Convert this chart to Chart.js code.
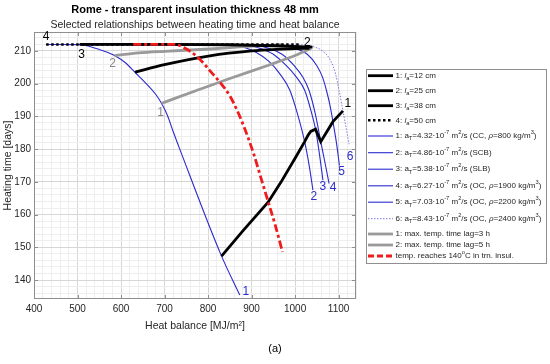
<!DOCTYPE html>
<html>
<head>
<meta charset="utf-8">
<script src="https://cdn.jsdelivr.net/npm/chart.js@4.4.1/dist/chart.umd.min.js"></script>
<style>
  html, body { margin: 0; padding: 0; background: #fff; }
  #wrap { width: 550px; height: 364px; }
</style>
</head>
<body>
<div id="wrap"><canvas id="chart" width="550" height="364"></canvas></div>
<script>
// heat balance [MJ/m2] -> heating time [days]
const xTickLabels = [400, 500, 600, 700, 800, 900, 1000, 1100];
const yTickLabels = [140, 150, 160, 170, 180, 190, 200, 210];

// thin blue: thermal diffusivity of the wall material
const material1 = [[428, 212], [505, 212], [530, 211.3], [551, 210.4], [570, 209.5], [585, 208.6], [610, 206.4], [632, 203.5], [659, 199.9], [680, 196.7], [693, 194], [707, 190.2], [720, 185.3], [735, 180], [831, 147.3], [873, 135.4]];
const material2 = [[428, 212], [850, 211.9], [880, 211.2], [910, 209.6], [940, 206.8], [965, 203], [988, 198], [1005, 191], [1022, 182.3], [1033, 174.5], [1041, 167.5]];
const material3 = [[428, 212], [880, 211.9], [915, 211], [950, 209], [980, 205.5], [1003, 202], [1022, 198], [1035, 192.5], [1047, 186.1], [1056, 178.5], [1064, 170.5]];
const material4 = [[428, 212], [900, 211.9], [935, 211], [970, 209], [998, 205.5], [1018, 202], [1032, 198], [1047, 190.5], [1059, 182.3], [1070, 175], [1078, 169.5]];
const material5 = [[428, 212], [960, 211.9], [995, 211], [1028, 209], [1050, 205.5], [1063, 202], [1072, 198], [1080, 193.5], [1087, 188.4], [1095, 182], [1102, 175]];
const material6 = [[428, 212], [1010, 211.9], [1040, 211.4], [1065, 209.8], [1082, 207], [1093, 203], [1101, 198], [1110, 191.7], [1118, 186], [1124, 181.5]];

// thick black: absorber spacing l_a
const spacing12 = [[831, 147.3], [880, 155], [938, 163.8], [968, 170], [1000, 177.2], [1022, 182.3], [1030, 184.3], [1036, 185.4], [1047, 186.1], [1059, 182.3], [1087, 188.4], [1110, 191.7]];
const spacing25 = [[632, 203.5], [700, 205.8], [804, 208.5], [900, 210], [960, 210.5], [1000, 210.7], [1033, 210.8]];
const spacing38 = [[505, 212], [700, 212], [850, 211.9], [950, 211.6], [1040, 211.2]];
const spacing50 = [[428, 212], [1010, 212]];

// thick grey: max. temperature time lag
const lag3h = [[693, 194], [781, 198.3], [850, 201.6], [942, 205.8], [1000, 208.6], [1037, 210.8]];
const lag5h = [[585, 208.6], [640, 209.4], [700, 209.9], [804, 210.6], [880, 211.3], [968, 211.9]];

// red: temperature reaches 140 C in the transparent insulation
const temp140 = [[628, 212], [724, 212], [745, 211], [770, 208.8], [790, 206.2], [804, 204], [827, 200.5], [850, 196.3], [868, 191.5], [885, 186], [905, 178.5], [922, 171], [938, 164], [955, 156.5], [971, 148.6]];

const FONT = '"Liberation Sans", Arial, Helvetica, sans-serif';
const BLUE = '#2b2bcf';
const BLUE_LIGHT = '#7a7ae0';
const GREY = '#9a9a9a';
const RED = '#ee1c1c';
const TEXT = '#262626';

const styles = {
  black: { color: '#000', width: 2.8, dash: [] },
  blackDot: { color: '#000', width: 2.6, dash: [2.5, 2.5] },
  blue: { color: BLUE, width: 1.1, dash: [] },
  blueDot: { color: BLUE_LIGHT, width: 1, dash: [1.5, 1.5] },
  grey: { color: GREY, width: 2.8, dash: [] },
  red: { color: RED, width: 2.8, dash: [8, 3, 3, 3] }
};

function line(points, style, order, smooth) {
  return {
    data: points.map(([x, y]) => ({ x, y })),
    borderColor: style.color,
    borderWidth: style.width,
    borderDash: style.dash,
    pointRadius: 0,
    fill: false,
    order,
    cubicInterpolationMode: smooth ? 'monotone' : 'default',
    tension: 0
  };
}

const datasets = [
  line(material1, styles.blue, 4, true),
  line(material2, styles.blue, 4, true),
  line(material3, styles.blue, 4, true),
  line(material4, styles.blue, 4, true),
  line(material5, styles.blue, 4, true),
  line(material6, styles.blueDot, 4, true),
  line(lag3h, styles.grey, 3, true),
  line(lag5h, styles.grey, 3, true),
  line(spacing50, styles.blackDot, 2, false),
  line(spacing38, styles.black, 1, false),
  line(spacing25, styles.black, 1, true),
  line(spacing12, styles.black, 1, false),
  line(temp140, styles.red, 0, true)
];

// numbers written next to the curves, anchored at a curve end
const curveLabels = [
  { text: '1', pts: material1, end: true, color: BLUE, dx: 6, dy: -3 },
  { text: '2', pts: material2, end: true, color: BLUE, dx: 1, dy: 7 },
  { text: '3', pts: material3, end: true, color: BLUE, dx: 0, dy: 6 },
  { text: '4', pts: material4, end: true, color: BLUE, dx: 4, dy: 4 },
  { text: '5', pts: material5, end: true, color: BLUE, dx: 2, dy: 6 },
  { text: '6', pts: material6, end: true, color: BLUE, dx: 1, dy: 12 },
  { text: '1', pts: spacing12, end: true, color: '#000', dx: 5, dy: -7 },
  { text: '2', pts: spacing25, end: true, color: '#000', dx: -2, dy: -6 },
  { text: '3', pts: spacing38, end: false, color: '#000', dx: 2, dy: 10 },
  { text: '4', pts: spacing50, end: false, color: '#000', dx: 0, dy: -8 },
  { text: '2', pts: lag5h, end: false, color: '#888', dx: -2, dy: 8 },
  { text: '1', pts: lag3h, end: false, color: '#888', dx: -1, dy: 9 }
];

const legendRows = [
  { s: 'black', y: 75.7, t: [['1: '], ['l', 'i'], ['a', 'sub'], ['=12 cm']] },
  { s: 'black', y: 90.7, t: [['2: '], ['l', 'i'], ['a', 'sub'], ['=25 cm']] },
  { s: 'black', y: 105.7, t: [['3: '], ['l', 'i'], ['a', 'sub'], ['=38 cm']] },
  { s: 'blackDot', y: 120.3, t: [['4: '], ['l', 'i'], ['a', 'sub'], ['=50 cm']] },
  { s: 'blue', y: 136, t: [['1: a'], ['T', 'sub'], ['=4.32\u00b710'], ['-7', 'sup'], [' m'], ['2', 'sup'], ['/s (CC, '], ['\u03c1', 'i'], ['=800 kg/m'], ['3', 'sup'], [')']] },
  { s: 'blue', y: 152.7, t: [['2: a'], ['T', 'sub'], ['=4.86\u00b710'], ['-7', 'sup'], [' m'], ['2', 'sup'], ['/s (SCB)']] },
  { s: 'blue', y: 169.2, t: [['3: a'], ['T', 'sub'], ['=5.38\u00b710'], ['-7', 'sup'], [' m'], ['2', 'sup'], ['/s (SLB)']] },
  { s: 'blue', y: 185.8, t: [['4: a'], ['T', 'sub'], ['=6.27\u00b710'], ['-7', 'sup'], [' m'], ['2', 'sup'], ['/s (OC, '], ['\u03c1', 'i'], ['=1900 kg/m'], ['3', 'sup'], [')']] },
  { s: 'blue', y: 202.2, t: [['5: a'], ['T', 'sub'], ['=7.03\u00b710'], ['-7', 'sup'], [' m'], ['2', 'sup'], ['/s (OC, '], ['\u03c1', 'i'], ['=2200 kg/m'], ['3', 'sup'], [')']] },
  { s: 'blueDot', y: 218.7, t: [['6: a'], ['T', 'sub'], ['=8.43\u00b710'], ['-7', 'sup'], [' m'], ['2', 'sup'], ['/s (OC, '], ['\u03c1', 'i'], ['=2400 kg/m'], ['3', 'sup'], [')']] },
  { s: 'grey', y: 234, t: [['1: max. temp. time lag=3 h']] },
  { s: 'grey', y: 245, t: [['2: max. temp. time lag=5 h']] },
  { s: 'red', y: 256, t: [['temp. reaches 140'], ['o', 'sup'], ['C in trn. insul.']] }
];

function drawRich(ctx, x, y, segs, size) {
  let cx = x;
  for (const [txt, mode] of segs) {
    const small = mode === 'sub' || mode === 'sup';
    const fs = small ? size * 0.72 : size;
    ctx.font = (mode === 'i' ? 'italic ' : '') + fs + 'px ' + FONT;
    const dy = mode === 'sub' ? size * 0.35 : mode === 'sup' ? -size * 0.42 : 0;
    ctx.fillText(txt, cx, y + dy);
    cx += ctx.measureText(txt).width;
  }
}

const decorations = {
  id: 'decorations',
  afterDatasetsDraw(chart) {
    const { ctx, chartArea: a, scales: { x, y } } = chart;
    ctx.save();
    ctx.strokeStyle = '#8f8f8f';
    ctx.lineWidth = 1;
    ctx.strokeRect(a.left + 0.5, a.top + 0.5, a.right - a.left - 1, a.bottom - a.top - 1);
    ctx.beginPath();
    for (const v of xTickLabels) {
      const px = Math.round(x.getPixelForValue(v)) + 0.5;
      ctx.moveTo(px, a.bottom); ctx.lineTo(px, a.bottom - 4);
      ctx.moveTo(px, a.top); ctx.lineTo(px, a.top + 4);
    }
    for (const v of yTickLabels) {
      const py = Math.round(y.getPixelForValue(v)) + 0.5;
      ctx.moveTo(a.left, py); ctx.lineTo(a.left + 4, py);
      ctx.moveTo(a.right, py); ctx.lineTo(a.right - 4, py);
    }
    ctx.stroke();

    ctx.font = '12px ' + FONT;
    ctx.textAlign = 'center';
    ctx.textBaseline = 'middle';
    for (const l of curveLabels) {
      const p = l.end ? l.pts[l.pts.length - 1] : l.pts[0];
      ctx.fillStyle = l.color;
      ctx.fillText(l.text, x.getPixelForValue(p[0]) + l.dx, y.getPixelForValue(p[1]) + l.dy);
    }
    ctx.restore();
  },
  afterDraw(chart) {
    const { ctx, chartArea: a } = chart;
    const cx = (a.left + a.right) / 2;
    ctx.save();
    ctx.fillStyle = '#000';
    ctx.textAlign = 'center';
    ctx.textBaseline = 'middle';
    ctx.font = 'bold 11px ' + FONT;
    ctx.fillText('Rome - transparent insulation thickness 48 mm', cx, 10);
    ctx.font = '10.5px ' + FONT;
    ctx.fillStyle = TEXT;
    ctx.fillText('Selected relationships between heating time and heat balance', cx, 25.5);
    ctx.font = '11px ' + FONT;
    ctx.fillStyle = '#000';
    ctx.fillText('(a)', 275, 349);

    // legend box
    ctx.fillStyle = '#fff';
    ctx.fillRect(366.5, 69.5, 180, 194);
    ctx.strokeStyle = '#8f8f8f';
    ctx.lineWidth = 1;
    ctx.strokeRect(366.5, 69.5, 180, 194);
    ctx.textAlign = 'left';
    for (const row of legendRows) {
      const st = styles[row.s];
      ctx.beginPath();
      ctx.strokeStyle = st.color;
      ctx.lineWidth = st.width;
      ctx.setLineDash(row.s === 'red' ? [6, 3] : st.dash);
      ctx.moveTo(368, row.y);
      ctx.lineTo(393, row.y);
      ctx.stroke();
      ctx.setLineDash([]);
      ctx.fillStyle = TEXT;
      drawRich(ctx, 395.5, row.y, row.t, 8);
    }
    ctx.restore();
  }
};

const xGrid = [];
for (let v = 400; v <= 1140; v += 20) xGrid.push(v);
const yGrid = [];
for (let v = 136; v <= 214; v += 2) yGrid.push(v);

new Chart(document.getElementById('chart'), {
  type: 'line',
  data: { datasets },
  plugins: [decorations],
  options: {
    responsive: false,
    animation: false,
    devicePixelRatio: 1,
    layout: { padding: { top: 32, right: 194, left: 0, bottom: 0 } },
    plugins: { legend: { display: false }, tooltip: { enabled: false }, title: { display: false } },
    scales: {
      x: {
        type: 'linear',
        min: 400,
        max: 1140,
        afterBuildTicks: (s) => { s.ticks = xGrid.map((v) => ({ value: v })); },
        afterFit: (s) => { s.height = 65; },
        grid: { color: (c) => (c.tick && c.tick.value % 100 === 0 ? '#d6d6d6' : '#eeeeee'), drawTicks: false },
        border: { display: false },
        ticks: {
          autoSkip: false, maxRotation: 0, padding: 4, color: TEXT,
          font: { family: FONT, size: 10 },
          callback: (v) => (xTickLabels.includes(v) ? String(v) : '')
        },
        title: {
          display: true, text: 'Heat balance [MJ/m\u00b2]', color: TEXT,
          font: { family: FONT, size: 10.5 }, padding: { top: 0, bottom: 32 }
        }
      },
      y: {
        min: 134.2,
        max: 215.8,
        afterBuildTicks: (s) => { s.ticks = yGrid.map((v) => ({ value: v })); },
        afterFit: (s) => { s.width = 34; },
        grid: { color: (c) => (c.tick && c.tick.value % 10 === 0 ? '#d6d6d6' : '#eeeeee'), drawTicks: false },
        border: { display: false },
        ticks: {
          autoSkip: false, padding: 3, color: TEXT,
          font: { family: FONT, size: 10 },
          callback: (v) => (yTickLabels.includes(v) ? String(v) : '')
        },
        title: {
          display: true, text: 'Heating time [days]', color: TEXT,
          font: { family: FONT, size: 10.5 }, padding: { top: 2, bottom: 0 }
        }
      }
    }
  }
});
</script>
</body>
</html>
